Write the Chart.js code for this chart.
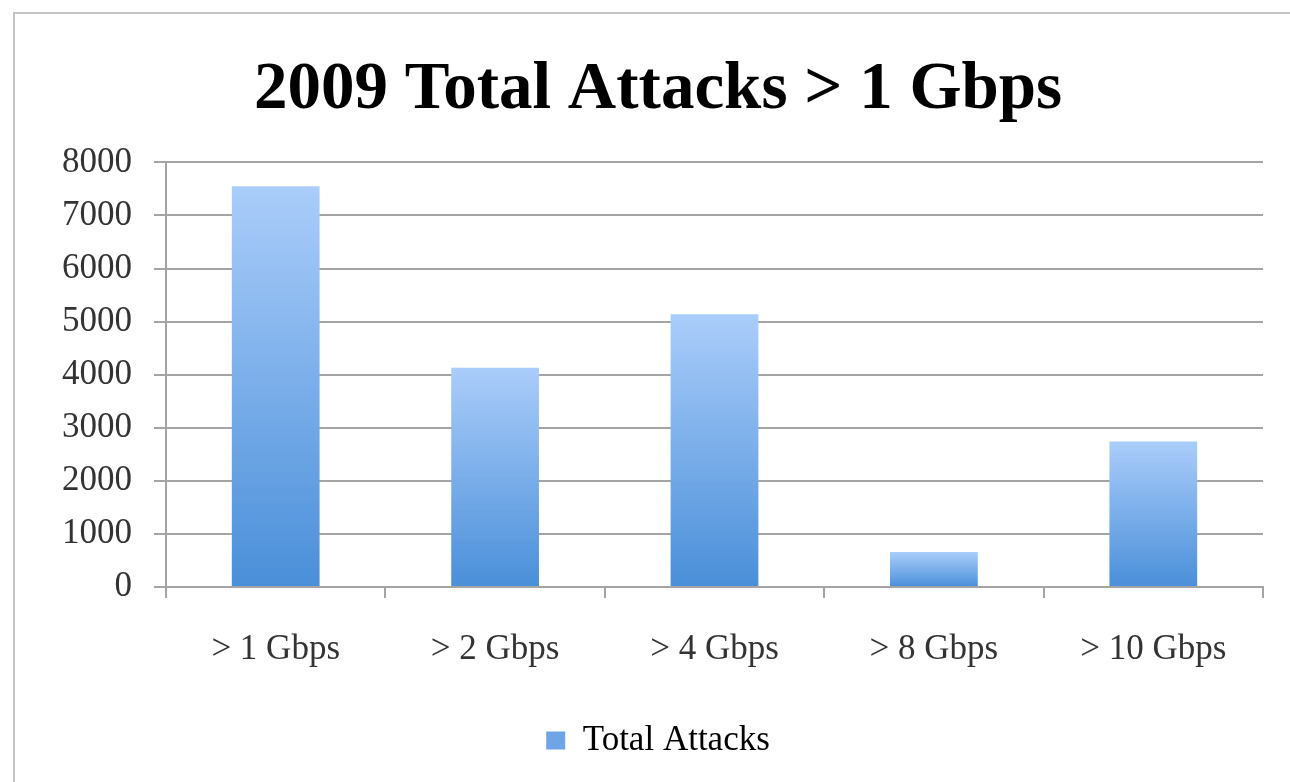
<!DOCTYPE html>
<html>
<head>
<meta charset="utf-8">
<script src="https://cdn.jsdelivr.net/npm/chart.js@4/dist/chart.umd.min.js"></script>
<style>
  html, body { margin:0; padding:0; background:#fff; overflow:hidden; }
  #wrap { position:relative; width:1290px; height:782px; }
  #frame { position:absolute; left:13px; top:12px; width:1400px; height:900px;
           border-left:2px solid #c4c4c4; border-top:2px solid #c4c4c4; pointer-events:none; }
  canvas { position:absolute; left:0; top:0; }
</style>
</head>
<body>
<div id="wrap">
  <div id="frame"></div>
  <canvas id="chart" width="1290" height="782"></canvas>
</div>
<script>
// values
const categories = ['> 1 Gbps', '> 2 Gbps', '> 4 Gbps', '> 8 Gbps', '> 10 Gbps'];
const totalAttacks = [7550, 4130, 5140, 660, 2740];
const seriesLabel = 'Total Attacks';
const chartTitle = '2009 Total Attacks > 1 Gbps';
const yMax = 8000;
const yStep = 1000;

const serif = "'Liberation Serif', 'Times New Roman', serif";
const gridGray = '#a4a4a4';
const textGray = '#333333';

// light-to-dark gradient per bar, from its top down to the baseline
function barFill(ctx){
  const chart = ctx.chart;
  const y = chart.scales && chart.scales.y;
  if (!chart.chartArea || !y || ctx.raw == null) return '#7aaae6';
  const top = y.getPixelForValue(ctx.raw);
  const base = y.getPixelForValue(0);
  const g = chart.ctx.createLinearGradient(0, top, 0, base);
  g.addColorStop(0, '#aacdfa');
  g.addColorStop(1, '#4a8fd9');
  return g;
}

new Chart(document.getElementById('chart'), {
  type: 'bar',
  data: {
    labels: categories,
    datasets: [{
      label: seriesLabel,
      data: totalAttacks,
      backgroundColor: barFill,
      borderWidth: 0,
      barPercentage: 0.4,
      categoryPercentage: 1.0
    }]
  },
  options: {
    responsive: false,
    animation: false,
    devicePixelRatio: 1,
    layout: { padding: { left: 53, right: 27, top: 0, bottom: 14 } },
    plugins: {
      title: {
        display: true,
        text: chartTitle,
        color: '#000',
        font: { family: serif, size: 67, weight: 'bold' },
        padding: { top: 50, bottom: 32 }
      },
      legend: {
        display: true,
        position: 'bottom',
        labels: {
          color: '#222',
          font: { family: serif, size: 35 },
          boxWidth: 19, boxHeight: 18,
          padding: 10,
          generateLabels(chart){
            return [{ text: seriesLabel, fillStyle: '#6fa5e6', strokeStyle: '#6fa5e6', lineWidth: 0, datasetIndex: 0 }];
          }
        }
      },
      tooltip: { enabled: false }
    },
    scales: {
      x: {
        grid: { drawOnChartArea: false, color: gridGray, lineWidth: 2, tickLength: 11 },
        border: { color: gridGray, width: 2 },
        ticks: { color: textGray, font: { family: serif, size: 35 }, padding: 31, maxRotation: 0 },
        afterFit(scale){ scale.height = 126; }
      },
      y: {
        min: 0, max: yMax,
        grid: { color: gridGray, lineWidth: 2, tickLength: 12 },
        border: { color: gridGray, width: 2 },
        ticks: { stepSize: yStep, color: textGray, font: { family: serif, size: 35 }, padding: 22,
                 callback: v => String(v) },
        afterFit(scale){ scale.width = 166 - 53; }
      }
    }
  }
});
</script>
</body>
</html>
